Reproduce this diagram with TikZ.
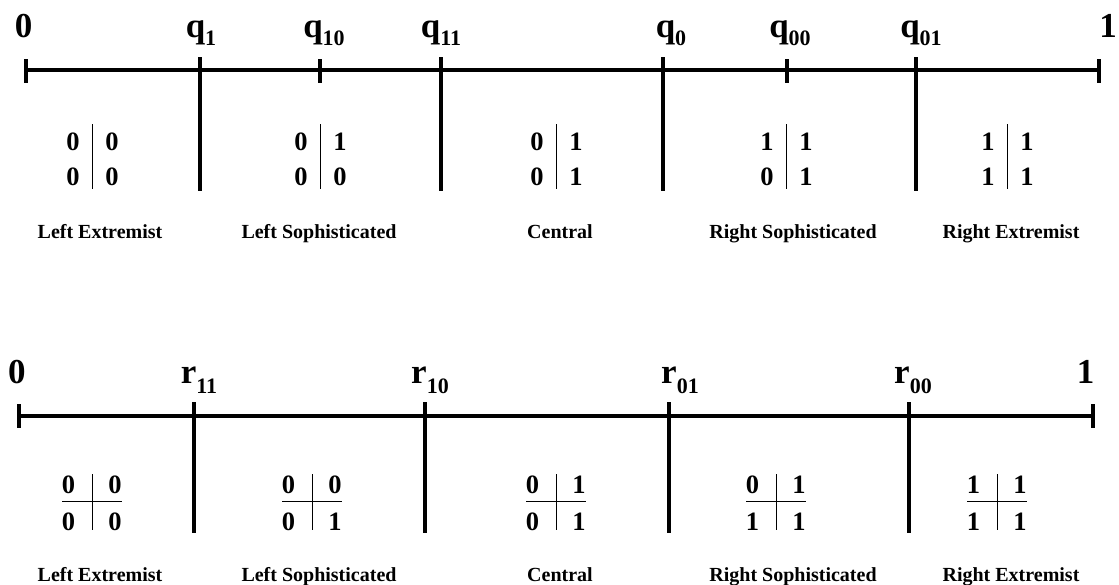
\documentclass[tikz,border=0pt]{standalone}
\usepackage{fontspec}
\setmainfont{Liberation Serif}
\usetikzlibrary{positioning}

\tikzset{
  axis/.style={line width=4.5pt},
  sepline/.style={line width=1pt},
  bigl/.style={font=\fontsize{35}{35}\selectfont\bfseries, inner sep=0pt, anchor=base},
  digit/.style={font=\fontsize{26.5}{26.5}\selectfont\bfseries, inner sep=0pt, anchor=base},
  capt/.style={font=\fontsize{20}{20}\selectfont\bfseries, inner sep=0pt, anchor=base}
}
\newcommand\subl[2][8pt]{\raisebox{-#1}{\fontsize{22}{22}\selectfont #2}}

\begin{document}
\begin{tikzpicture}[x=1pt,y=-1pt]
      \useasboundingbox (0,0) rectangle (1119,584);

      % top line: q thresholds
      \node[bigl] (zt) at (23.5,37) {0};
      \node[bigl] (ot) at (1108,37) {1};
      \coordinate (at) at (26,70);
      \coordinate (bt) at (1099,70);
      \draw[axis] (at) -- (bt);
      \draw[axis] ([yshift=11pt]at) -- ([yshift=-13pt]at);
      \draw[axis] ([yshift=11pt]bt) -- ([yshift=-13pt]bt);

      \foreach \x/\lx/\s in {200/201/1, 441/441/11, 663/671/0, 916/921/01} {
        \node[bigl] (q\s) at (\lx,37) {q\subl{\s}};
        \coordinate (q\s t) at (\x,57);
        \coordinate (q\s b) at (\x,191);
        \draw[axis] (q\s t) -- (q\s b);
      }
      \foreach \x/\lx/\s in {320/324/10, 787/790/00} {
        \node[bigl] (q\s) at (\lx,37) {q\subl{\s}};
        \coordinate (q\s t) at (\x,59);
        \coordinate (q\s b) at (\x,83);
        \draw[axis] (q\s t) -- (q\s b);
      }

      \foreach \x/\a/\b/\c/\d [count=\i] in {92/0/0/0/0, 320/0/1/0/0, 556/0/1/0/1, 786/1/1/0/1, 1007/1/1/1/1} {
        \node[digit] (tma\i) at ({\x-19},150) {\a};
        \node[digit] (tmb\i) at ({\x+20},150) {\b};
        \node[digit] (tmc\i) at ({\x-19},185) {\c};
        \node[digit] (tmd\i) at ({\x+20},185) {\d};
        \draw[sepline] (\x,124) -- (\x,189);
      }

      % bottom line: r thresholds
      \node[bigl] (zb) at (17,383) {0};
      \node[bigl] (ob) at (1085.5,383) {1};
      \coordinate (ab) at (19,416);
      \coordinate (bb) at (1093,416);
      \draw[axis] (ab) -- (bb);
      \draw[axis] ([yshift=12pt]ab) -- ([yshift=-12pt]ab);
      \draw[axis] ([yshift=12pt]bb) -- ([yshift=-12pt]bb);

      \foreach \x/\lx/\s in {194/199/11, 425/430/10, 669/680/01, 909/913/00} {
        \node[bigl] (r\s) at (\lx,383) {r\subl[10pt]{\s}};
        \coordinate (r\s t) at (\x,402);
        \coordinate (r\s b) at (\x,533);
        \draw[axis] (r\s t) -- (r\s b);
      }

      \foreach \x/\a/\b/\c/\d [count=\i] in {92/0/0/0/0, 312/0/0/0/1, 556/0/1/0/1, 776/0/1/1/1, 997/1/1/1/1} {
        \node[digit] (bma\i) at ({\x-23.5},493) {\a};
        \node[digit] (bmb\i) at ({\x+23},493) {\b};
        \node[digit] (bmc\i) at ({\x-23.5},530) {\c};
        \node[digit] (bmd\i) at ({\x+23},530) {\d};
        \draw[sepline] (\x,474) -- (\x,530);
        \draw[sepline] ({\x-30},501) -- ({\x+30},501);
      }

      % captions
      \foreach \x/\t [count=\i] in {100/Left Extremist, 319/Left Sophisticated, 560/Central, 793/Right Sophisticated, 1011/Right Extremist} {
        \node[capt] (ct\i) at (\x,238) {\t};
        \node[capt] (cb\i) at (\x,581) {\t};
      }
    \end{tikzpicture}
\end{document}
